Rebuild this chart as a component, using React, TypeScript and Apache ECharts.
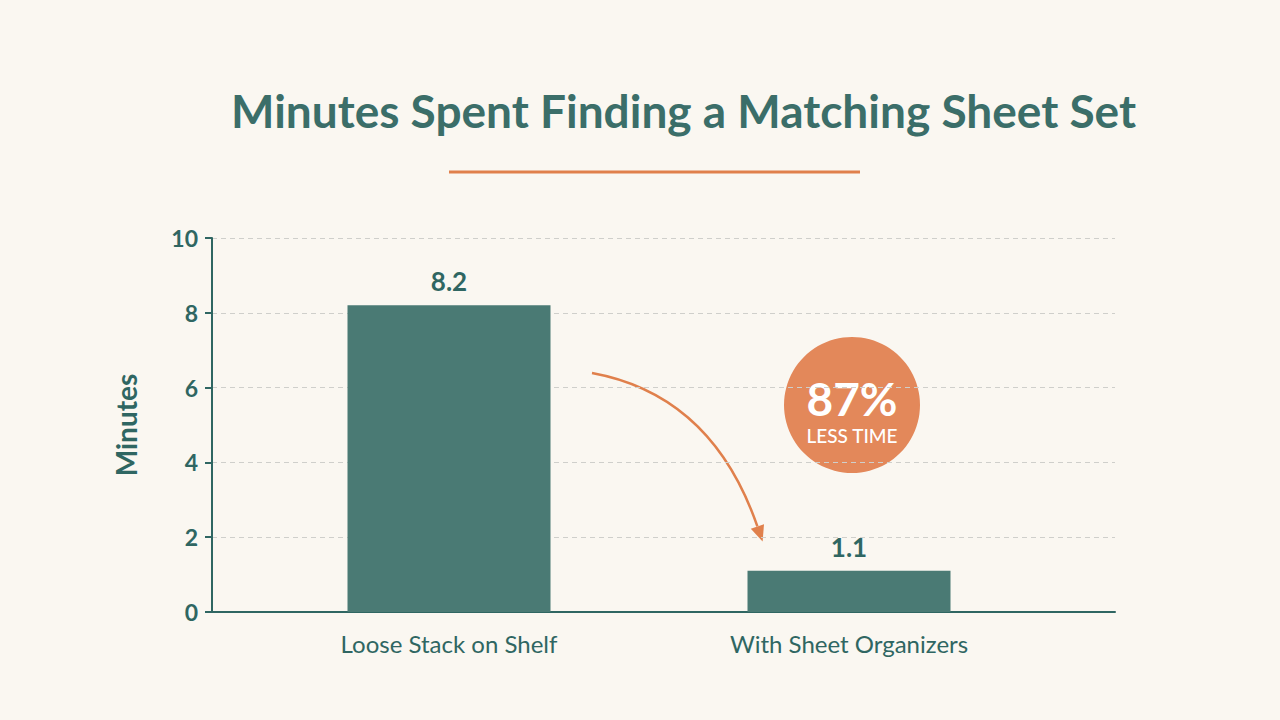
import React, { useEffect, useRef } from "react";
import * as echarts from "echarts";

const categories = ["Loose Stack on Shelf", "With Sheet Organizers"];
const minutes = [8.2, 1.1];
const yTicks = [0, 2, 4, 6, 8, 10];
const titleText = "Minutes Spent Finding a Matching Sheet Set";
const badgeValue = "87%";
const badgeText = "LESS TIME";

const TEAL = "#2f6662";
const BAR = "#4a7a74";
const ORANGE = "#e0804c";
const BG = "#faf7f1";
const FONT = "Lato, 'Open Sans', sans-serif";

export default function App() {
  const ref = useRef<HTMLDivElement>(null);
  useEffect(() => {
    document.body.style.margin = "0";
    const chart = echarts.init(ref.current!, null, { renderer: "svg" });

    // arrow geometry
    const sx = 592, sy = 373, cx = 712, cy = 395, ex = 760, ey = 534;
    const ang = Math.atan2(ey - cy, ex - cx);
    const hl = 16, hw = 7;
    const tipX = ex + Math.cos(ang) * 8, tipY = ey + Math.sin(ang) * 8;
    const bX = tipX - Math.cos(ang) * hl, bY = tipY - Math.sin(ang) * hl;
    const px = -Math.sin(ang) * hw, py = Math.cos(ang) * hw;

    chart.setOption({
      animation: false,
      backgroundColor: BG,
      title: {
        text: titleText,
        left: 226,
        top: 82,
        textStyle: { fontFamily: FONT, fontSize: 46, fontWeight: "bold", color: "#3b6e69" },
      },
      grid: [
        { left: 212, right: 165, top: 238, bottom: 108 },
        { left: 249, right: 231, top: 238, bottom: 108 },
      ],
      xAxis: [
        {
          gridIndex: 0,
          type: "category",
          data: ["", ""],
          axisLine: { show: true, lineStyle: { color: TEAL, width: 2 } },
          axisTick: { show: false },
          axisLabel: { show: false },
        },
        {
          gridIndex: 1,
          type: "category",
          data: categories,
          axisLine: { show: false },
          axisTick: { show: false },
          axisLabel: { fontFamily: FONT, fontSize: 24, color: TEAL, margin: 19 },
        },
      ],
      yAxis: [
        {
          gridIndex: 0,
          type: "value",
          min: 0,
          max: 10,
          interval: 2,
          name: "Minutes",
          nameLocation: "middle",
          nameGap: 72,
          nameTextStyle: { fontFamily: FONT, fontSize: 28, fontWeight: "bold", color: TEAL },
          axisLine: { show: true, lineStyle: { color: TEAL, width: 2 } },
          axisTick: { show: true, length: 7, lineStyle: { color: TEAL, width: 2 } },
          axisLabel: { fontFamily: FONT, fontSize: 23, fontWeight: "bold", color: TEAL, margin: 14 },
          splitLine: { show: true, lineStyle: { color: "#cfcfcb", type: [5, 4], width: 1 } },
        },
        {
          gridIndex: 1,
          type: "value",
          min: 0,
          max: 10,
          interval: 2,
          show: false,
        },
      ],
      series: [
        {
          type: "bar",
          xAxisIndex: 1,
          yAxisIndex: 1,
          data: minutes,
          barWidth: 203,
          itemStyle: { color: BAR },
          label: {
            show: true,
            position: "top",
            distance: 11,
            fontFamily: FONT,
            fontSize: 26,
            fontWeight: "bold",
            color: TEAL,
          },
        },
      ],
      graphic: [
        {
          type: "line",
          shape: { x1: 449, y1: 172, x2: 860, y2: 172 },
          style: { stroke: ORANGE, lineWidth: 3 },
        },
        {
          type: "bezierCurve",
          shape: { x1: sx, y1: sy, x2: bX, y2: bY, cpx1: cx, cpy1: cy },
          style: { stroke: ORANGE, lineWidth: 2.5, fill: null },
        },
        {
          type: "polygon",
          shape: {
            points: [
              [tipX, tipY],
              [bX + px, bY + py],
              [bX - px, bY - py],
            ],
          },
          style: { fill: ORANGE },
        },
        {
          type: "circle",
          shape: { cx: 852, cy: 405, r: 68 },
          style: { fill: "#e3885a" },
        },
        {
          type: "text",
          x: 852,
          y: 398,
          style: {
            text: badgeValue,
            fill: "#ffffff",
            font: `bold 46px ${FONT}`,
            align: "center",
            verticalAlign: "middle",
          },
        },
        {
          type: "text",
          x: 852,
          y: 435,
          style: {
            text: badgeText,
            fill: "#ffffff",
            font: `500 19px ${FONT}`,
            align: "center",
            verticalAlign: "middle",
          },
        },
      ],
    });
    return () => chart.dispose();
  }, []);
  return <div ref={ref} style={{ width: 1280, height: 720 }} />;
}
